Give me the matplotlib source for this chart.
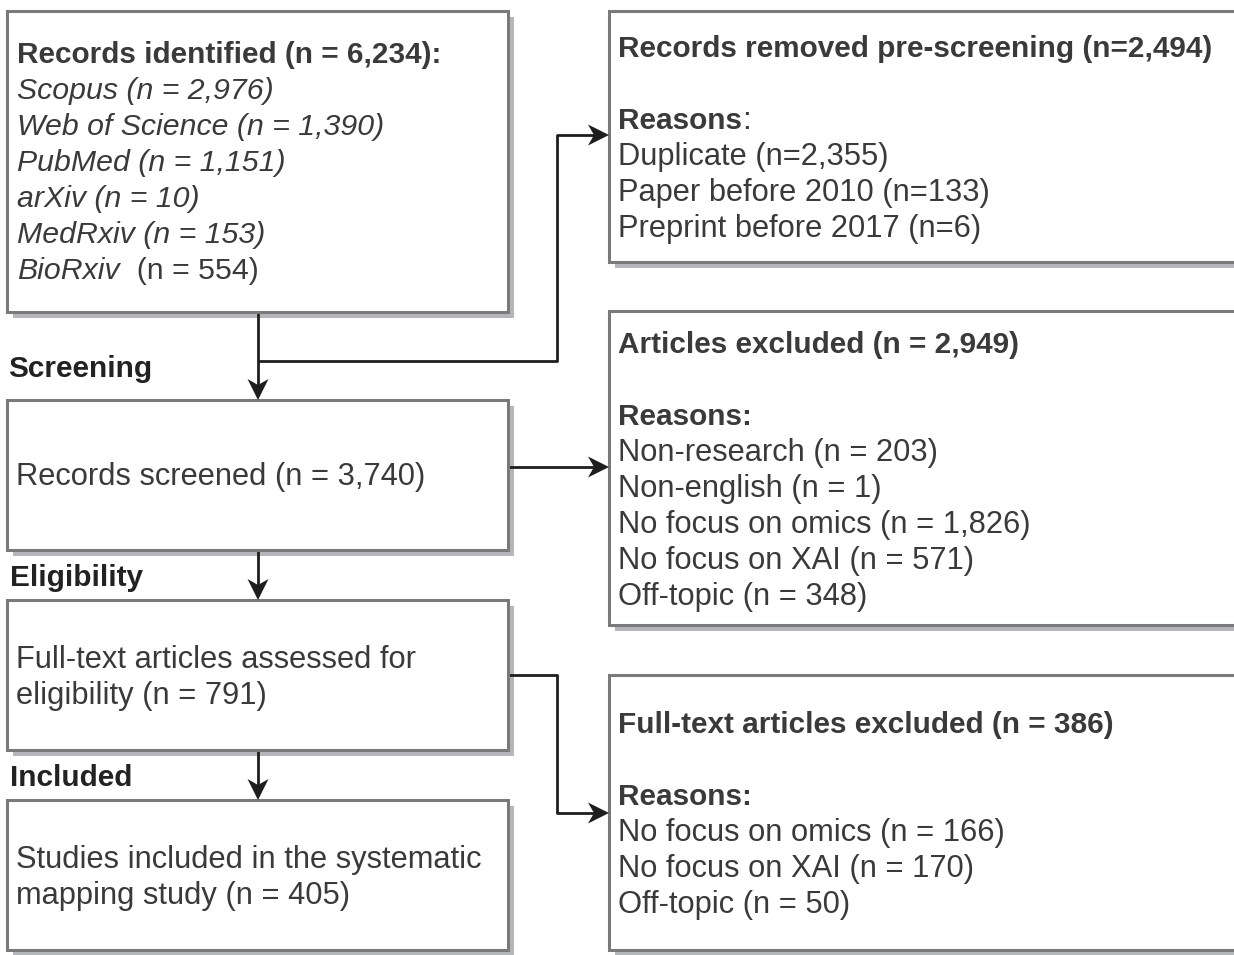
import matplotlib.pyplot as plt
from matplotlib.patches import Rectangle, Polygon

plt.rcParams['font.family'] = ['Liberation Sans', 'DejaVu Sans']

# box contents
ident_title = 'Records identified (n = 6,234):'
ident_lines = ['Scopus (n = 2,976)', 'Web of Science (n = 1,390)', 'PubMed (n = 1,151)',
               'arXiv (n = 10)', 'MedRxiv (n = 153)']
ident_last = ('BioRxiv', '  (n = 554)')

removed_title = 'Records removed pre-screening (n=2,494)'
removed_lines = ['Duplicate (n=2,355)', 'Paper before 2010 (n=133)', 'Preprint before 2017 (n=6)']

excl_title = 'Articles excluded (n = 2,949)'
excl_lines = ['Non-research (n = 203)', 'Non-english (n = 1)', 'No focus on omics (n = 1,826)',
              'No focus on XAI (n = 571)', 'Off-topic (n = 348)']

ft_title = 'Full-text articles excluded (n = 386)'
ft_lines = ['No focus on omics (n = 166)', 'No focus on XAI (n = 170)', 'Off-topic (n = 50)']

screened_text = 'Records screened (n = 3,740)'
eligible_text = ['Full-text articles assessed for', 'eligibility (n = 791)']
included_text = ['Studies included in the systematic', 'mapping study (n = 405)']

stage_labels = ['Screening', 'Eligibility', 'Included']

txt_col = '#3a3a3a'
edge_col = '#7a7a7a'
shadow_col = '#b4b6b9'
line_col = '#1e1e1e'
fs = 22.2
fs_i = 21.8
fs_b = 21.4
dy = 36

fig = plt.figure(figsize=(12.34, 9.55), dpi=100)
ax = fig.add_axes([0, 0, 1, 1])
ax.set_xlim(0, 1234)
ax.set_ylim(955, 0)
ax.axis('off')


def box(x0, y0, x1, y1):
    ax.add_patch(Rectangle((x0 + 6, y0 + 6), x1 - x0, y1 - y0, fc=shadow_col, ec='none', zorder=1))
    ax.add_patch(Rectangle((x0, y0), x1 - x0, y1 - y0, fc='white', ec=edge_col, lw=2.2, zorder=2))


def txt(x, y, s, **kw):
    kw.setdefault('color', txt_col)
    if kw.get('fontweight') == 'bold':
        kw.setdefault('fontsize', fs_b)
    elif kw.get('fontstyle') == 'italic':
        kw.setdefault('fontsize', fs_i)
    else:
        kw.setdefault('fontsize', fs)
    return ax.text(x, y + 2, s, va='center', ha='left', zorder=3, **kw)


def arrow(pts, L=21, W=10.5, notch=6):
    xs = [p[0] for p in pts]
    ys = [p[1] for p in pts]
    (x0, y0), (x1, y1) = pts[-2], pts[-1]
    d = ((x1 - x0) ** 2 + (y1 - y0) ** 2) ** 0.5
    ux, uy = (x1 - x0) / d, (y1 - y0) / d
    px, py = -uy, ux
    xs[-1] = x1 - ux * (L - notch)
    ys[-1] = y1 - uy * (L - notch)
    ax.plot(xs, ys, color=line_col, lw=2, zorder=1.5, solid_capstyle='butt')
    head = [(x1, y1),
            (x1 - ux * L + px * W, y1 - uy * L + py * W),
            (x1 - ux * (L - notch), y1 - uy * (L - notch)),
            (x1 - ux * L - px * W, y1 - uy * L - py * W)]
    ax.add_patch(Polygon(head, closed=True, fc=line_col, ec='none', zorder=4))


# left column boxes
box(7, 11, 508, 312)
box(7, 400, 508, 550)
box(7, 600, 508, 750)
box(7, 800, 508, 950)
# right column boxes (cut off at right edge)
box(609, 11, 1260, 262)
box(609, 311, 1260, 625)
box(609, 675, 1260, 950)

# box 1 text
txt(17, 53, ident_title, fontweight='bold')
for i, s in enumerate(ident_lines):
    txt(17, 89 + dy * i, s, fontstyle='italic')
t = txt(17, 89 + dy * len(ident_lines), ident_last[0], fontstyle='italic')
ax.annotate(ident_last[1], xy=(1, 0.5), xycoords=t, va='center', ha='left',
            color=txt_col, fontsize=fs_i)

# removed box
txt(618, 47, removed_title, fontweight='bold')
t = txt(618, 119, 'Reasons', fontweight='bold')
ax.annotate(':', xy=(1, 0.5), xycoords=t, va='center', ha='left', color=txt_col, fontsize=fs)
for i, s in enumerate(removed_lines):
    txt(618, 155 + dy * i, s)

# excluded box
txt(618, 343, excl_title, fontweight='bold')
txt(618, 415, 'Reasons:', fontweight='bold')
for i, s in enumerate(excl_lines):
    txt(618, 451 + dy * i, s)

# full-text excluded box
txt(618, 723, ft_title, fontweight='bold')
txt(618, 795, 'Reasons:', fontweight='bold')
for i, s in enumerate(ft_lines):
    txt(618, 831 + dy * i, s)

# left text
txt(16, 475, screened_text)
for i, s in enumerate(eligible_text):
    txt(16, 658 + dy * i, s)
for i, s in enumerate(included_text):
    txt(16, 858 + dy * i, s)

# stage labels
for s, y, x in zip(stage_labels, [367, 576, 776], [8, 10, 10]):
    txt(x, y, s, fontweight='bold', color='#222222')

# connectors
arrow([(258, 313), (258, 400)])
arrow([(258, 361), (557, 361), (557, 135), (609, 135)])
arrow([(509, 467), (609, 467)])
arrow([(258, 551), (258, 600)])
arrow([(509, 675), (557, 675), (557, 813), (609, 813)])
arrow([(258, 751), (258, 800)])

fig.savefig('out.png', dpi=100)
